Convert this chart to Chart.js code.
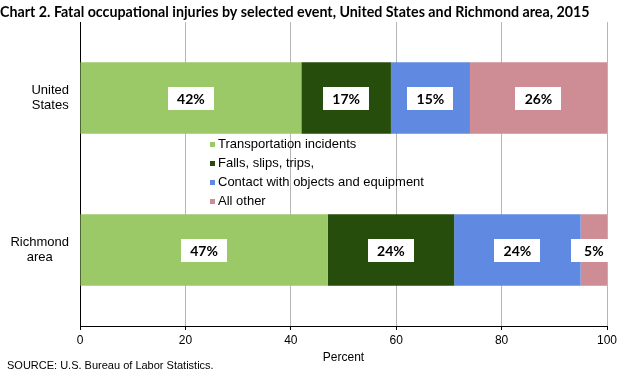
<!DOCTYPE html>
<html>
<head>
<meta charset="utf-8">
<script src="https://cdn.jsdelivr.net/npm/chart.js@4/dist/chart.umd.min.js"></script>
<style>
  html, body { margin: 0; padding: 0; background: #ffffff; }
  #wrap { width: 621px; height: 376px; }
</style>
</head>
<body>
<div id="wrap"><canvas id="c" width="621" height="376"></canvas></div>
<script>
// ---- data ----
const categories = [['United', 'States'], ['Richmond', 'area']];
const seriesNames = ['Transportation incidents', 'Falls, slips, trips,', 'Contact with objects and equipment', 'All other'];
const transportation = [42, 47];
const falls = [17, 24];
const contact = [15, 24];
const allOther = [26, 5];
const xTicks = [0, 20, 40, 60, 80, 100];
const titleText = 'Chart 2. Fatal occupational injuries by selected event, United States and Richmond area, 2015';
const sourceText = 'SOURCE: U.S. Bureau of Labor Statistics.';
const axisTitle = 'Percent';

const colors = ['#9BC968', '#264D0C', '#608AE2', '#CE8C94'];
const values = [transportation, falls, contact, allOther];

const SANS = '"Liberation Sans", Arial, sans-serif';
const BOLD = 'Lato, "Open Sans", sans-serif';

const bgPlugin = {
  id: 'bg',
  beforeDraw(chart) {
    const ctx = chart.ctx;
    ctx.save();
    ctx.fillStyle = '#ffffff';
    ctx.fillRect(0, 0, chart.width, chart.height);
    ctx.restore();
  }
};

const labelBoxes = {
  id: 'labelBoxes',
  afterDatasetsDraw(chart) {
    const ctx = chart.ctx;
    ctx.save();
    ctx.font = 'bold 14px ' + BOLD;
    ctx.textAlign = 'center';
    ctx.textBaseline = 'middle';
    chart.data.datasets.forEach((ds, i) => {
      const meta = chart.getDatasetMeta(i);
      meta.data.forEach((el, j) => {
        const cx = (el.x + el.base) / 2;
        const cy = el.y;
        const w = 46, h = 23;
        ctx.fillStyle = '#ffffff';
        ctx.fillRect(Math.round(cx - w / 2), Math.round(cy - h / 2), w, h);
        ctx.fillStyle = '#000000';
        ctx.fillText(ds.data[j] + '%', cx, cy + 1);
      });
    });
    ctx.restore();
  }
};

const extras = {
  id: 'extras',
  afterDraw(chart) {
    const ctx = chart.ctx;
    const yScale = chart.scales.y;
    ctx.save();
    // category labels (centered lines, right-aligned block)
    ctx.font = '13px ' + SANS;
    ctx.fillStyle = '#000000';
    ctx.textBaseline = 'middle';
    ctx.textAlign = 'center';
    const rightEdge = 69;
    const lh = 15;
    categories.forEach((lines, i) => {
      const cy = yScale.getPixelForValue(i);
      const maxW = Math.max(...lines.map(l => ctx.measureText(l).width));
      const cx = rightEdge - maxW / 2;
      lines.forEach((l, k) => {
        ctx.fillText(l, cx, cy + (k - (lines.length - 1) / 2) * lh);
      });
    });
    // legend inside plot
    ctx.textAlign = 'left';
    const lx = 210, ly0 = 144, step = 19.3;
    seriesNames.forEach((name, i) => {
      const y = ly0 + i * step;
      ctx.fillStyle = colors[i];
      ctx.fillRect(lx, Math.round(y - 2.5), 5, 5);
      ctx.fillStyle = '#000000';
      ctx.fillText(name, lx + 8, y);
    });
    // source
    ctx.font = '11px ' + SANS;
    ctx.fillText(sourceText, 7, 366);
    ctx.restore();
  }
};

new Chart(document.getElementById('c'), {
  type: 'bar',
  data: {
    labels: categories.map(c => c.join(' ')),
    datasets: seriesNames.map((name, i) => ({
      label: name,
      data: values[i],
      backgroundColor: colors[i],
      borderWidth: 0,
      categoryPercentage: 1,
      barPercentage: 0.47
    }))
  },
  options: {
    indexAxis: 'y',
    responsive: false,
    animation: false,
    devicePixelRatio: 1,
    layout: { padding: { left: 0, right: 14, top: 0, bottom: 0 } },
    plugins: {
      legend: { display: false },
      tooltip: { enabled: false },
      title: {
        display: true,
        text: titleText,
        align: 'start',
        color: '#000000',
        font: { family: BOLD, size: 14.25, weight: 'bold' },
        padding: { top: 4, bottom: 1, left: 7 }
      }
    },
    scales: {
      x: {
        stacked: true,
        min: 0,
        max: 100,
        afterBuildTicks(scale) { scale.ticks = xTicks.map(v => ({ value: v })); },
        afterFit(scale) { scale.height = 50; },
        ticks: {
          color: '#000000',
          font: { family: SANS, size: 12 },
          padding: 3,
          maxRotation: 0
        },
        grid: {
          color: ctx => (ctx.tick && ctx.tick.value === 0) ? '#000000' : '#b5b5b5',
          tickColor: '#000000',
          tickLength: 4,
          lineWidth: 1
        },
        border: { display: true, color: '#000000', width: 1 },
        title: {
          display: true,
          text: axisTitle,
          color: '#000000',
          font: { family: SANS, size: 12 },
          padding: { top: 0, bottom: 11 }
        }
      },
      y: {
        stacked: true,
        afterFit(scale) { scale.width = 80; },
        ticks: { display: false },
        grid: { display: false, drawTicks: false },
        border: { display: true, color: '#000000', width: 1 }
      }
    }
  },
  plugins: [bgPlugin, labelBoxes, extras]
});
</script>
</body>
</html>
